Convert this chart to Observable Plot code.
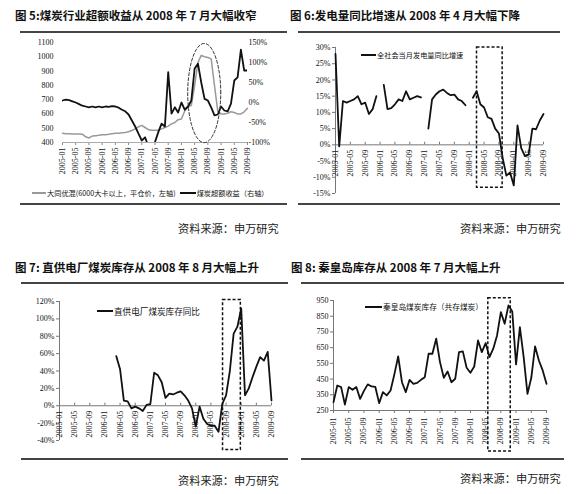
<!DOCTYPE html>
<html><head><meta charset="utf-8">
<script src="https://cdn.jsdelivr.net/npm/d3@7"></script>
<script src="https://cdn.jsdelivr.net/npm/@observablehq/plot@0.6"></script>
<style>
body{margin:0;background:#fff;}
#root{position:relative;width:576px;height:494px;overflow:hidden;font-family:"Noto Sans CJK SC",sans-serif;background:#fff;}
.abs{position:absolute;}
.title{font-weight:bold;font-size:11.5px;line-height:12px;color:#111;white-space:nowrap;}
.rule{height:1.5px;background:#444;}
.src{font-size:11.2px;line-height:12px;color:#222;white-space:nowrap;}
.leg{color:#111;white-space:nowrap;display:flex;align-items:center;line-height:10px;}
.sw{display:inline-block;height:2px;background:#111;margin-right:1px;}
</style></head>
<body><div id="root"></div>
<script>
// ---------- shared x categories (monthly, 2005-01 .. 2009-09) ----------
const monthIndex = d3.range(57);
const tickIdx = [0,4,8,12,16,20,24,28,32,36,40,44,48,52,56];
const tickLabels = ["2005-01","2005-05","2005-09","2006-01","2006-05","2006-09","2007-01","2007-05","2007-09","2008-01","2008-05","2008-09","2009-01","2009-05","2009-09"];

// ---------- Fig 5 ----------
const datongPrice = [465,462,462,460,460,460,458,440,432,445,448,450,
 455,455,458,462,465,465,468,470,475,484,495,510,
 520,505,490,485,485,485,495,505,515,530,540,560,
 565,620,650,660,800,960,1010,1000,995,985,800,620,
 600,600,605,615,610,600,600,615,640];
const coalExcess = [5,7,6,3,0,-4,-8,-10,-12,-10,-12,-10,
 -12,-10,-11,-9,-10,-13,-18,-22,-30,-45,-60,-78,
 -95,-87,-110,-115,-99,-74,-53,-60,76,-28,-12,-25,
 0,-18,-10,5,85,97,50,9,5,-12,-32,-30,
 -10,-20,-22,-3,55,63,132,80,80];
const leftTicks5 = [400,500,600,700,800,900,1000,1100];
const rightTicks5 = [-100,-50,0,50,100,150];
const ellipse5 = {cx: 42.9, cy: 746, rx: 5, ry: 347};

// ---------- Fig 6 ----------
const powerGrowth = [28,-0.5,13.5,13,13.5,14,15,12.5,13,9.5,11,15,
 null,18.5,11,11.3,12.5,14,13.5,16.5,14,14.5,15,14.6,
 null,5,14,15.5,16.5,17,16,15.3,15.5,14,13.5,12.2,
 null,14.5,16.5,12.5,11.5,8.5,8,5,3.5,-4,-9.5,-8.5,
 -12.5,6,-1,-3.5,-3,5,4.8,7.5,9.5];
const yTicks6 = [-15,-10,-5,0,5,10,15,20,25,30];
const box6 = {x1: 38.1, x2: 45, y1: -13.2, y2: 30};

// ---------- Fig 7 ----------
const plantStock = [null,null,null,null,null,null,null,null,null,null,null,null,
 null,null,null,57,42,6,5,-3,-1,-3,-6,1,
 2,38,35,27,9,14,13,15,16.5,12,6,-3,
 -24,-1,-15,-21,-23,-23,-30,2,12,40,83,91,
 112,12,20,33,45,56,52,62,6];
const yTicks7 = [-40,-20,0,20,40,60,80,100,120];
const box7 = {x1: 43.2, x2: 47.9, y1: -51, y2: 121.8};

// ---------- Fig 8 ----------
const qhdStock = [303,409,399,288,399,382,399,324,375,416,403,400,
 297,367,346,377,480,594,430,367,445,420,426,445,
 462,611,611,707,558,458,498,430,452,621,626,522,
 490,530,696,621,679,590,643,728,876,802,919,880,
 543,781,590,356,458,658,568,505,420];
const yTicks8 = [250,350,450,550,650,750,850,950];
const box8 = {x1: 40.7, x2: 46.6, y1: -11, y2: 965};

// ---------- helpers ----------
const root = document.getElementById("root");
function add(html, cls, style){const d=document.createElement("div");d.className="abs "+(cls||"");d.style.cssText=style;d.innerHTML=html;root.appendChild(d);return d;}
function place(svg,left,top){svg.style.position="absolute";svg.style.left=left+"px";svg.style.top=top+"px";root.appendChild(svg);}
const series = arr => monthIndex.map(i => ({m: i, v: arr[i]}));
const ticksData = tickIdx.map((m,i)=>({m, label: tickLabels[i]}));
const tickMap = new Map(tickIdx.map((m,i)=>[m,tickLabels[i]]));
const baseStyle = {fontFamily:"'Liberation Serif', serif", fontSize:"8px", color:"#111", background:"transparent", overflow:"visible"};

// titles, rules, sources
add("图 5:煤炭行业超额收益从 2008 年 7 月大幅收窄","title","left:15px;top:9px;");
add("图 6:发电量同比增速从 2008 年 4 月大幅下降","title","left:290px;top:9px;");
add("图 7: 直供电厂煤炭库存从 2008 年 8 月大幅上升","title","left:15px;top:261px;");
add("图 8: 秦皇岛库存从 2008 年 7 月大幅上升","title","left:291px;top:261px;");
add("","rule","left:20px;top:31px;width:267px;");
add("","rule","left:298px;top:31px;width:262px;");
add("","rule","left:20px;top:203px;width:267px;");
add("","rule","left:298px;top:203px;width:262px;");
add("","rule","left:21px;top:282px;width:267px;");
add("","rule","left:301px;top:282px;width:263px;");
add("","rule","left:21px;top:458px;width:267px;");
add("","rule","left:301px;top:458px;width:263px;");
add("资料来源：申万研究","src","left:178px;top:222px;");
add("资料来源：申万研究","src","left:460px;top:222px;");
add("资料来源：申万研究","src","left:178px;top:474px;");
add("资料来源：申万研究","src","left:460px;top:472px;");

// ---------- Fig 5 plot ----------
const toLeft = p => p == null ? null : 400 + (p + 100) * 700 / 250;
const ellPts = d3.range(0, 101).map(k => {const t = k / 100 * 2 * Math.PI; return {x: ellipse5.cx + ellipse5.rx * Math.cos(t), y: ellipse5.cy + ellipse5.ry * Math.sin(t)};});
const p1 = Plot.plot({
  width: 288, height: 150, marginLeft: 62, marginRight: 41, marginTop: 7, marginBottom: 43,
  style: baseStyle,
  x: {domain: [0,56]},
  y: {domain: [400,1100]},
  marks: [
    Plot.axisY({ticks: leftTicks5, anchor: "left", tickSize: 0, tickPadding: 9, tickFormat: d => String(d)}),
    Plot.axisY({ticks: rightTicks5.map(toLeft), anchor: "right", tickSize: 0, tickPadding: 1, textAnchor: "start", tickFormat: d => Math.round((d - 400) * 250 / 700 - 100) + "%"}),
    Plot.axisX({ticks: tickIdx, tickFormat: d => tickMap.get(d), tickRotate: -90, tickSize: 3, tickPadding: 2, stroke: "#888"}),
    Plot.ruleY([400], {stroke: "#aaa"}),
    Plot.line(series(datongPrice), {x: "m", y: "v", stroke: "#999", strokeWidth: 1.5}),
    Plot.line(series(coalExcess).map(d => ({m: d.m, v: toLeft(d.v)})), {x: "m", y: "v", stroke: "#111", strokeWidth: 1.8, clip: true}),
    Plot.line(ellPts, {x: "x", y: "y", stroke: "#333", strokeWidth: 1, strokeDasharray: "3,2"})
  ]
});
place(p1, 0, 35);
add('<span class="sw" style="width:14px;background:#999;height:1.5px"></span><span>大同优混(6000大卡以上，平仓价，左轴)</span><span class="sw" style="width:16px;margin-left:4px"></span><span>煤炭超额收益（右轴）</span>',"leg","left:32px;top:188px;font-size:7.2px;");

// ---------- Fig 6 plot ----------
const p2 = Plot.plot({
  width: 288, height: 160, marginLeft: 47, marginRight: 33, marginTop: 7, marginBottom: 7,
  style: baseStyle,
  x: {domain: [0,56], axis: null},
  y: {domain: [-15,30]},
  marks: [
    Plot.ruleX([0], {stroke: "#777"}),
    Plot.axisY({ticks: yTicks6, tickSize: 3, tickPadding: 2, tickFormat: d => d + "%", stroke: "#777"}),
    Plot.ruleY([0], {stroke: "#777"}),
    Plot.ruleX(ticksData, {x: "m", y1: 0, y2: 0.8, stroke: "#777"}),
    Plot.text(ticksData, {x: "m", y: 0, text: "label", rotate: -90, textAnchor: "end", dy: 5, fontSize: 8}),
    Plot.line(series(powerGrowth), {x: "m", y: "v", stroke: "#111", strokeWidth: 1.8}),
    Plot.rect([box6], {x1: "x1", x2: "x2", y1: "y1", y2: "y2", fill: "none", stroke: "#111", strokeWidth: 1.5, strokeDasharray: "3,2"})
  ]
});
place(p2, 288, 40);
add('<span class="sw" style="width:15px"></span><span>全社会当月发电量同比增速</span>',"leg","left:361px;top:50px;font-size:7.2px;");

// ---------- Fig 7 plot ----------
const p3 = Plot.plot({
  width: 288, height: 165, marginLeft: 59, marginRight: 17, marginTop: 11, marginBottom: 15,
  style: baseStyle,
  x: {domain: [0,56], axis: null},
  y: {domain: [-40,120]},
  marks: [
    Plot.ruleX([0], {stroke: "#777"}),
    Plot.axisY({ticks: yTicks7, tickSize: 3, tickPadding: 2, tickFormat: d => d + "%", stroke: "#777"}),
    Plot.ruleY([0], {stroke: "#777"}),
    Plot.ruleX(ticksData, {x: "m", y1: 0, y2: 3, stroke: "#777"}),
    Plot.text(ticksData, {x: "m", y: 0, text: "label", rotate: -90, textAnchor: "end", dy: 5, fontSize: 8}),
    Plot.line(series(plantStock), {x: "m", y: "v", stroke: "#111", strokeWidth: 1.8}),
    Plot.rect([box7], {x1: "x1", x2: "x2", y1: "y1", y2: "y2", fill: "none", stroke: "#111", strokeWidth: 1.5, strokeDasharray: "3,2"})
  ]
});
place(p3, 0, 290);
add('<span class="sw" style="width:16px"></span><span>直供电厂煤炭库存同比</span>',"leg","left:97px;top:306px;font-size:8.6px;");

// ---------- Fig 8 plot ----------
const p4 = Plot.plot({
  width: 288, height: 168, marginLeft: 45, marginRight: 30, marginTop: 10, marginBottom: 48,
  style: baseStyle,
  x: {domain: [0,56]},
  y: {domain: [250,950]},
  marks: [
    Plot.ruleX([0], {stroke: "#777"}),
    Plot.axisY({ticks: yTicks8, tickSize: 3, tickPadding: 2, tickFormat: d => String(d), stroke: "#777"}),
    Plot.ruleY([250], {stroke: "#777"}),
    Plot.axisX({ticks: tickIdx, tickFormat: d => tickMap.get(d), tickRotate: -90, tickSize: 3, tickPadding: 4, stroke: "#777"}),
    Plot.line(series(qhdStock), {x: "m", y: "v", stroke: "#111", strokeWidth: 1.8}),
    Plot.rect([box8], {x1: "x1", x2: "x2", y1: "y1", y2: "y2", fill: "none", stroke: "#111", strokeWidth: 1.5, strokeDasharray: "3,2"})
  ]
});
place(p4, 288, 290);
add('<span class="sw" style="width:17px"></span><span>秦皇岛煤炭库存（共存煤炭）</span>',"leg","left:365px;top:302px;font-size:7.7px;");
</script></body></html>
